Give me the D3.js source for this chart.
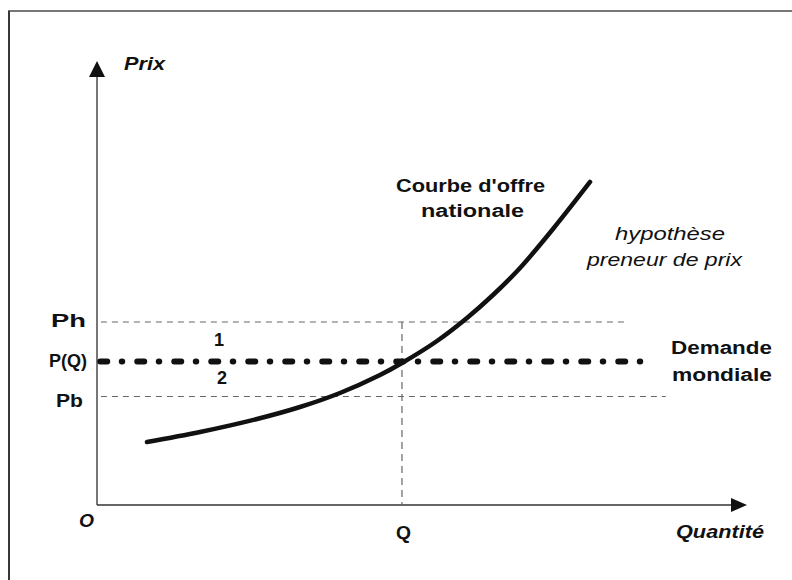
<!DOCTYPE html>
<html><head><meta charset="utf-8">
<script src="https://cdn.jsdelivr.net/npm/d3@7"></script>
<style>html,body{margin:0;padding:0;background:#fff;}svg{display:block;}</style>
</head><body>
<script>
// ---- data ----
const curveQ = [7.69, 15.85, 24.62, 31.23, 37.38, 43.54, 46.92, 52.31, 56.92, 60.92, 65.08, 70.15, 75.85];
const curveP = [14.19, 16.44, 19.37, 22.07, 25.23, 29.28, 31.98, 36.94, 42.12, 47.30, 53.38, 62.16, 72.75];
const priceLevels = [41.22, 32.32, 24.44];          // Ph, P(Q), Pb
const priceLabels = ["Ph", "P(Q)", "Pb"];
const priceLineEnd = [81.2, 84.0, 87.5];
const qValue = 46.92;
const xTickValues = [0, qValue];
const xTickLabels = ["O", "Q"];
const zoneLabels = ["1", "2"];

const W = 792, H = 580;
const svg = d3.select("body").append("svg").attr("width", W).attr("height", H);

const x = d3.scaleLinear().domain([0, 100]).range([97, 747]);
const y = d3.scaleLinear().domain([0, 100]).range([505, 61]);

// frame
svg.append("rect").attr("x", 9).attr("y", 11).attr("width", 820).attr("height", 620)
  .attr("fill", "none").attr("stroke", "#777").attr("stroke-width", 2);
svg.append("line").attr("x1", 9).attr("x2", 9).attr("y1", 11).attr("y2", H)
  .attr("stroke", "#222").attr("stroke-width", 1.5);

const ink = "#111";

// axes lines with arrows
svg.append("line").attr("x1", x(0)).attr("x2", x(0)).attr("y1", y(0)).attr("y2", y(100) + 14)
  .attr("stroke", "#555").attr("stroke-width", 1.6);
svg.append("path").attr("d", `M${x(0)},${y(100)} L${x(0) - 8},${y(100) + 16} L${x(0) + 8},${y(100) + 16} Z`)
  .attr("fill", ink);
svg.append("line").attr("x1", x(0)).attr("x2", x(100) - 14).attr("y1", y(0)).attr("y2", y(0))
  .attr("stroke", "#333").attr("stroke-width", 1.6);
svg.append("path").attr("d", `M${x(100)},${y(0)} L${x(100) - 16},${y(0) - 7} L${x(100) - 16},${y(0) + 7} Z`)
  .attr("fill", ink);

// y tick labels via axis
const yAxis = svg.append("g").attr("transform", `translate(${x(0)},0)`)
  .call(d3.axisLeft(y).tickValues(priceLevels).tickFormat((d, i) => priceLabels[i]).tickSize(0).tickPadding(11));
yAxis.select(".domain").remove();
const yLen = {"Ph": 35, "P(Q)": 38, "Pb": 27};
const yDy = {"Ph": 4.5, "P(Q)": 5.5, "Pb": 10.5};
const yDx = {"Ph": 0, "P(Q)": 1, "Pb": -3};
yAxis.selectAll("text")
  .attr("font-family", "Liberation Sans, Arial, sans-serif").attr("font-size", 18).attr("font-weight", "bold")
  .attr("fill", ink).attr("dy", null)
  .attr("dx", d => yDx[priceLabels[priceLevels.indexOf(d)]])
  .attr("transform", (d) => `translate(0,${yDy[priceLabels[priceLevels.indexOf(d)]]})`)
  .attr("textLength", d => yLen[priceLabels[priceLevels.indexOf(d)]])
  .attr("lengthAdjust", "spacingAndGlyphs");

// x tick labels via axis
const xAxis = svg.append("g").attr("transform", `translate(0,${y(0)})`)
  .call(d3.axisBottom(x).tickValues(xTickValues).tickFormat((d, i) => xTickLabels[i]).tickSize(0).tickPadding(0));
xAxis.select(".domain").remove();
xAxis.selectAll("text")
  .attr("font-family", "Liberation Sans, Arial, sans-serif").attr("font-size", 18).attr("font-weight", "bold")
  .attr("fill", ink).attr("dy", null)
  .attr("font-style", (d, i) => i === 0 ? "italic" : "normal")
  .attr("transform", (d, i) => i === 0 ? "translate(-11,22)" : "translate(1,34)")
  .attr("textLength", 15).attr("lengthAdjust", "spacingAndGlyphs");

// dashed horizontal lines Ph and Pb
[0, 2].forEach(i => {
  svg.append("line").attr("x1", x(0.6)).attr("x2", x(priceLineEnd[i]))
    .attr("y1", y(priceLevels[i])).attr("y2", y(priceLevels[i]))
    .attr("stroke", "#666").attr("stroke-width", 1.2).attr("stroke-dasharray", "6,5");
});
// vertical dashed at Q
svg.append("line").attr("x1", x(qValue)).attr("x2", x(qValue))
  .attr("y1", y(priceLevels[0])).attr("y2", y(0))
  .attr("stroke", "#666").attr("stroke-width", 1.2).attr("stroke-dasharray", "7,5");

// supply curve
const line = d3.line().x(d => x(d[0])).y(d => y(d[1])).curve(d3.curveCatmullRom.alpha(0.5));
svg.append("path").datum(curveQ.map((q, i) => [q, curveP[i]]))
  .attr("d", line).attr("fill", "none").attr("stroke", ink).attr("stroke-width", 4.5)
  .attr("stroke-linecap", "round");

// world demand dash-dot
svg.append("line").attr("x1", x(0.5)).attr("x2", x(priceLineEnd[1]))
  .attr("y1", y(priceLevels[1])).attr("y2", y(priceLevels[1]))
  .attr("stroke", ink).attr("stroke-width", 6).attr("stroke-linecap", "round")
  .attr("stroke-dasharray", "7,14.5,0.5,15");

// text helper
function txt(s, x0, yb, len, opts = {}) {
  return svg.append("text").attr("x", x0).attr("y", yb)
    .attr("font-family", "Liberation Sans, Arial, sans-serif")
    .attr("font-size", opts.size || 18)
    .attr("font-weight", opts.weight || "bold")
    .attr("font-style", opts.style || "normal")
    .attr("fill", ink)
    .attr("textLength", len).attr("lengthAdjust", "spacingAndGlyphs")
    .text(s);
}
txt("Prix", 124, 70, 41, {style: "italic", size: 19});
txt("Quantité", 676, 538, 88, {style: "italic"});
txt("Courbe d'offre", 396, 192, 149);
txt("nationale", 421, 217, 103);
txt("hypothèse", 615, 240, 110, {weight: "normal", style: "italic"});
txt("preneur de prix", 587, 266, 155, {weight: "normal", style: "italic"});
txt("Demande", 671, 354, 101);
txt("mondiale", 672, 381, 100);
svg.append("text").attr("x", 219).attr("y", 346).attr("text-anchor", "middle")
  .attr("font-family", "Liberation Sans, Arial, sans-serif").attr("font-size", 18).attr("font-weight", "bold")
  .attr("fill", ink).text(zoneLabels[0]);
svg.append("text").attr("x", 222).attr("y", 384).attr("text-anchor", "middle")
  .attr("font-family", "Liberation Sans, Arial, sans-serif").attr("font-size", 18).attr("font-weight", "bold")
  .attr("fill", ink).text(zoneLabels[1]);
</script>
</body></html>
